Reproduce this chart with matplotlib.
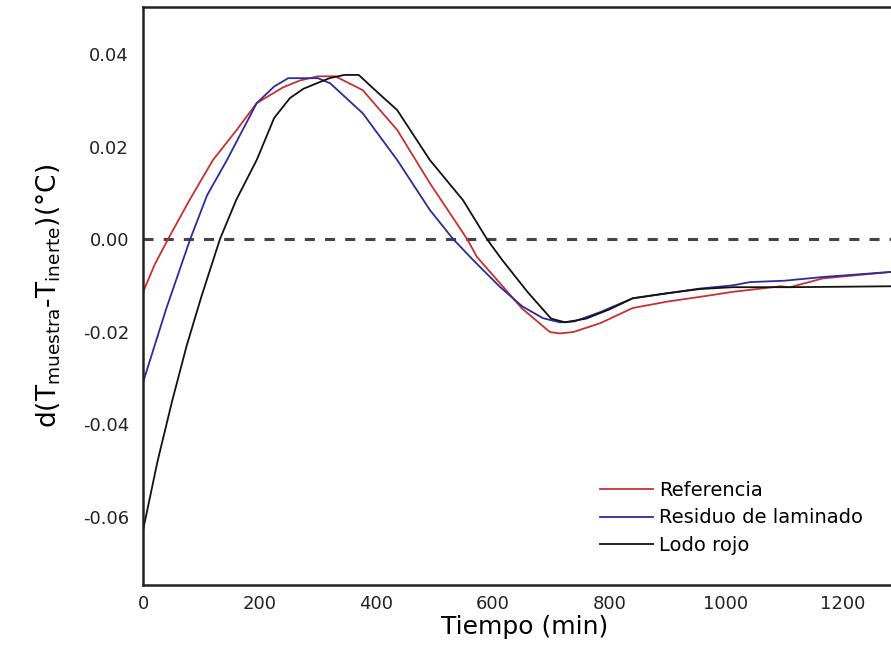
import numpy as np
import matplotlib
matplotlib.use("Agg")
import matplotlib.pyplot as plt

plt.rcParams['font.family'] = ['DejaVu Sans']

# Referencia
t_ref = [0, 20, 43, 80, 120, 160, 195, 240, 269, 300, 330, 377, 436, 492, 556, 573,
         612, 650, 698, 715, 738, 784, 840, 900, 955, 1012, 1060, 1093, 1110, 1166, 1283]
y_ref = [-0.0115, -0.0055, 0.0, 0.0085, 0.0171, 0.0235, 0.0294, 0.0328, 0.0343, 0.0352, 0.0352,
         0.0322, 0.0236, 0.0121, 0.0, -0.0039, -0.0095, -0.0150, -0.0201, -0.0204, -0.0201,
         -0.0182, -0.0149, -0.0135, -0.0125, -0.0114, -0.0107, -0.0102, -0.0104, -0.0085, -0.0071]

# Residuo de laminado
t_res = [0, 12, 40, 81, 110, 144, 195, 225, 249, 300, 321, 377, 436, 492, 532, 566,
         612, 650, 686, 715, 740, 784, 840, 900, 955, 1012, 1041, 1100, 1166, 1283]
y_res = [-0.031, -0.0262, -0.015, 0.0, 0.0095, 0.0171, 0.0294, 0.0330, 0.0348, 0.0348, 0.0337,
         0.0272, 0.0171, 0.0063, 0.0, -0.0045, -0.0103, -0.0145, -0.0171, -0.0180, -0.0178,
         -0.0158, -0.0128, -0.0117, -0.0107, -0.0100, -0.0093, -0.0090, -0.0082, -0.0071]

# Lodo rojo
t_lod = [0, 25, 50, 75, 100, 132, 160, 195, 225, 252, 275, 300, 320, 345, 370, 400, 436, 492,
         549, 590, 616, 660, 700, 724, 760, 800, 840, 900, 955, 1012, 1110, 1200, 1283]
y_lod = [-0.063, -0.048, -0.035, -0.023, -0.0125, 0.0, 0.0085, 0.0171, 0.0262, 0.0305, 0.0325,
         0.0338, 0.0348, 0.0355, 0.0355, 0.032, 0.0279, 0.0171, 0.0084, 0.0, -0.0045, -0.0115,
         -0.0172, -0.0180, -0.0172, -0.0152, -0.0128, -0.0117, -0.0108, -0.0104, -0.0104,
         -0.0103, -0.0102]

series = [
    ("Referencia", t_ref, y_ref, "#c83030"),
    ("Residuo de laminado", t_res, y_res, "#2b2b9e"),
    ("Lodo rojo", t_lod, y_lod, "#111111"),
]

x_ticks = [0, 200, 400, 600, 800, 1000, 1200]
y_ticks = [-0.06, -0.04, -0.02, 0.00, 0.02, 0.04]

fig = plt.figure(figsize=(8.91, 6.51), dpi=100)
ax = fig.add_axes([0.1605, 0.1014, 0.8395, 0.8879])

ax.axhline(0, color="#444444", lw=2.2, linestyle=(0, (3.3, 3.3)), zorder=1)
for name, t, y, c in series:
    ax.plot(t, y, color=c, lw=1.3, label=name, zorder=2)

ax.set_xlim(0, 1283)
ax.set_ylim(-0.0748, 0.0502)
ax.set_xticks(x_ticks)
ax.set_yticks(y_ticks)
ax.set_yticklabels(["%.2f" % v for v in y_ticks])
ax.tick_params(length=0, labelsize=13, colors="#222222")
ax.tick_params(axis="x", pad=7)
ax.tick_params(axis="y", pad=10)

for s in ["left", "bottom", "top"]:
    ax.spines[s].set_linewidth(1.8)
    ax.spines[s].set_color("#222222")
ax.spines["right"].set_visible(False)

ax.set_xlabel("Tiempo (min)", fontsize=18)
ax.set_ylabel(r"d(T$_{\mathregular{muestra}}$-T$_{\mathregular{inerte}}$)(°C)", fontsize=19, labelpad=14)
ax.xaxis.set_label_coords(0.51, -0.052)

ax.legend(loc="center left", bbox_to_anchor=(0.611, 0.116), frameon=False, fontsize=14,
          handlelength=2.7, handletextpad=0.35, labelspacing=0.45,
          borderpad=0, borderaxespad=0)

plt.savefig("out.png", dpi=100)
plt.close()
